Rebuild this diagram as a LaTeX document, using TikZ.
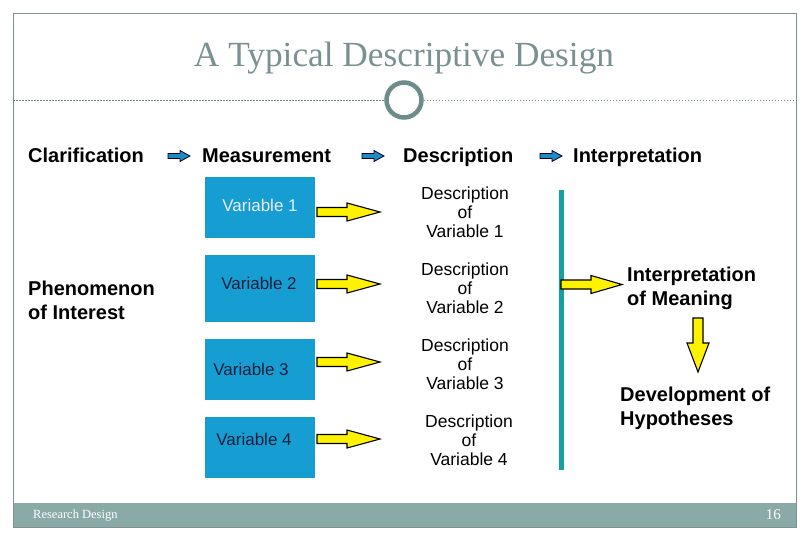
\documentclass[tikz,border=0pt]{standalone}
\usepackage{fontspec}
\setmainfont{Liberation Serif}
\setsansfont{Liberation Sans}
\begin{document}
\begin{tikzpicture}[x=1pt,y=-1pt,
  hdr/.style={font=\sffamily\bfseries\fontsize{20}{24}\selectfont,anchor=west,inner sep=0pt,align=left},
  hbase/.style={font=\sffamily\bfseries\fontsize{20}{24}\selectfont,anchor=base west,inner sep=0pt},
  desc/.style={font=\sffamily\fontsize{17.5}{19}\selectfont,align=center,inner sep=0pt},
  varbox/.style={fill=varblue,draw=none,minimum width=110pt,inner sep=0pt},
  vartxt/.style={font=\sffamily\fontsize{17}{19}\selectfont,inner sep=0pt},
  yarr/.style={fill=yellow,draw=black,line width=1.1pt,line join=miter},
  barr/.style={fill=hdrblue,draw=black!80!blue,line width=0.8pt}]
\definecolor{varblue}{RGB}{22,158,210}
\definecolor{hdrblue}{RGB}{30,140,190}
\definecolor{framegray}{RGB}{128,145,145}
\definecolor{bandcol}{RGB}{138,170,168}
\definecolor{titlecol}{RGB}{122,145,145}
\definecolor{circcol}{RGB}{110,140,140}
\definecolor{tealline}{RGB}{20,160,160}
\definecolor{navy}{RGB}{15,30,60}
\useasboundingbox (0,0) rectangle (810,540);
\fill[white] (0,0) rectangle (810,540);
% frame and footer
\fill[bandcol] (13,503) rectangle (796,527);
\draw[framegray,line width=0.7pt] (13,527) -- (13,13) -- (796,13) -- (796,527) -- (13,527);
\node[font=\fontsize{12.5}{14}\selectfont,white,anchor=west,inner sep=0pt] (foot) at (33,516) {Research Design};
\node[font=\fontsize{15}{17}\selectfont,white,anchor=east,inner sep=0pt] (pg) at (781,515) {16};
% title
\node[font=\fontsize{35.3}{40}\selectfont,titlecol,inner sep=0pt] (title) at (404,58) {A Typical Descriptive Design};
\node[circle,draw=circcol,line width=4.5pt,minimum size=35pt,inner sep=0pt] (circ) at (404,100) {};
\coordinate (dl) at (13,100);
\coordinate (dr) at (796,100);
\draw[circcol,line width=0.8pt,dash pattern=on 1.5pt off 1.5pt] (dl) -- (circ.west);
\draw[circcol,line width=0.8pt,dash pattern=on 1.5pt off 1.5pt] (circ.east) -- (dr);
% headers
\node[hbase] (h1) at (28,163) {Clarification};
\node[hbase] (h2) at (202,163) {Measurement};
\node[hbase] (h3) at (403,163) {Description};
\node[hbase] (h4) at (573,163) {Interpretation};
\foreach \x in {168,362,540}{
  \draw[barr] (\x,153.5) -- (\x+12,153.5) -- (\x+12,150.5) -- (\x+22,156) -- (\x+12,161.5) -- (\x+12,158.5) -- (\x,158.5) -- cycle;
}
% phenomenon
\node[hdr] (phen) at (28,300) {Phenomenon\\of Interest};
% variable boxes
\node[varbox,minimum height=61pt] (v1) at (260,207.5) {};
\node[varbox,minimum height=67pt] (v2) at (260,288.5) {};
\node[varbox,minimum height=61pt] (v3) at (260,369.5) {};
\node[varbox,minimum height=61pt] (v4) at (260,447.5) {};
\node[vartxt,white!92!blue] at (260,205) {Variable 1};
\node[vartxt,navy] at (259,283) {Variable 2};
\node[vartxt,navy] at (251,369) {Variable 3};
\node[vartxt,navy] at (254,439) {Variable 4};
% yellow arrows
\foreach \y in {212,284,362,439}{
  \draw[yarr] (317,\y-4.5) -- (347,\y-4.5) -- (347,\y-9) -- (380,\y) -- (347,\y+9) -- (347,\y+4.5) -- (317,\y+4.5) -- cycle;
}
% descriptions
\node[desc] (d1) at (465,212) {Description\\of\\Variable 1};
\node[desc] (d2) at (465,288) {Description\\of\\Variable 2};
\node[desc] (d3) at (465,364) {Description\\of\\Variable 3};
\node[desc] (d4) at (469,440.5) {Description\\of\\Variable 4};
% teal line
\coordinate (lt) at (561,190);
\coordinate (lb) at (561,470);
\draw[tealline,line width=5pt] (lt) -- (lb);
% interpretation arrow
\draw[yarr] (561,280) -- (591,280) -- (591,275.5) -- (622,284.5) -- (591,293.5) -- (591,289) -- (561,289) -- cycle;
\node[hdr] (im) at (627,288) {Interpretation\\of Meaning};
% down arrow
\draw[yarr] (693,318) -- (703,318) -- (703,343) -- (709,343) -- (698,372) -- (687,343) -- (693,343) -- cycle;
\node[hdr] (dev) at (620,408) {Development of\\Hypotheses};
\end{tikzpicture}
\end{document}
